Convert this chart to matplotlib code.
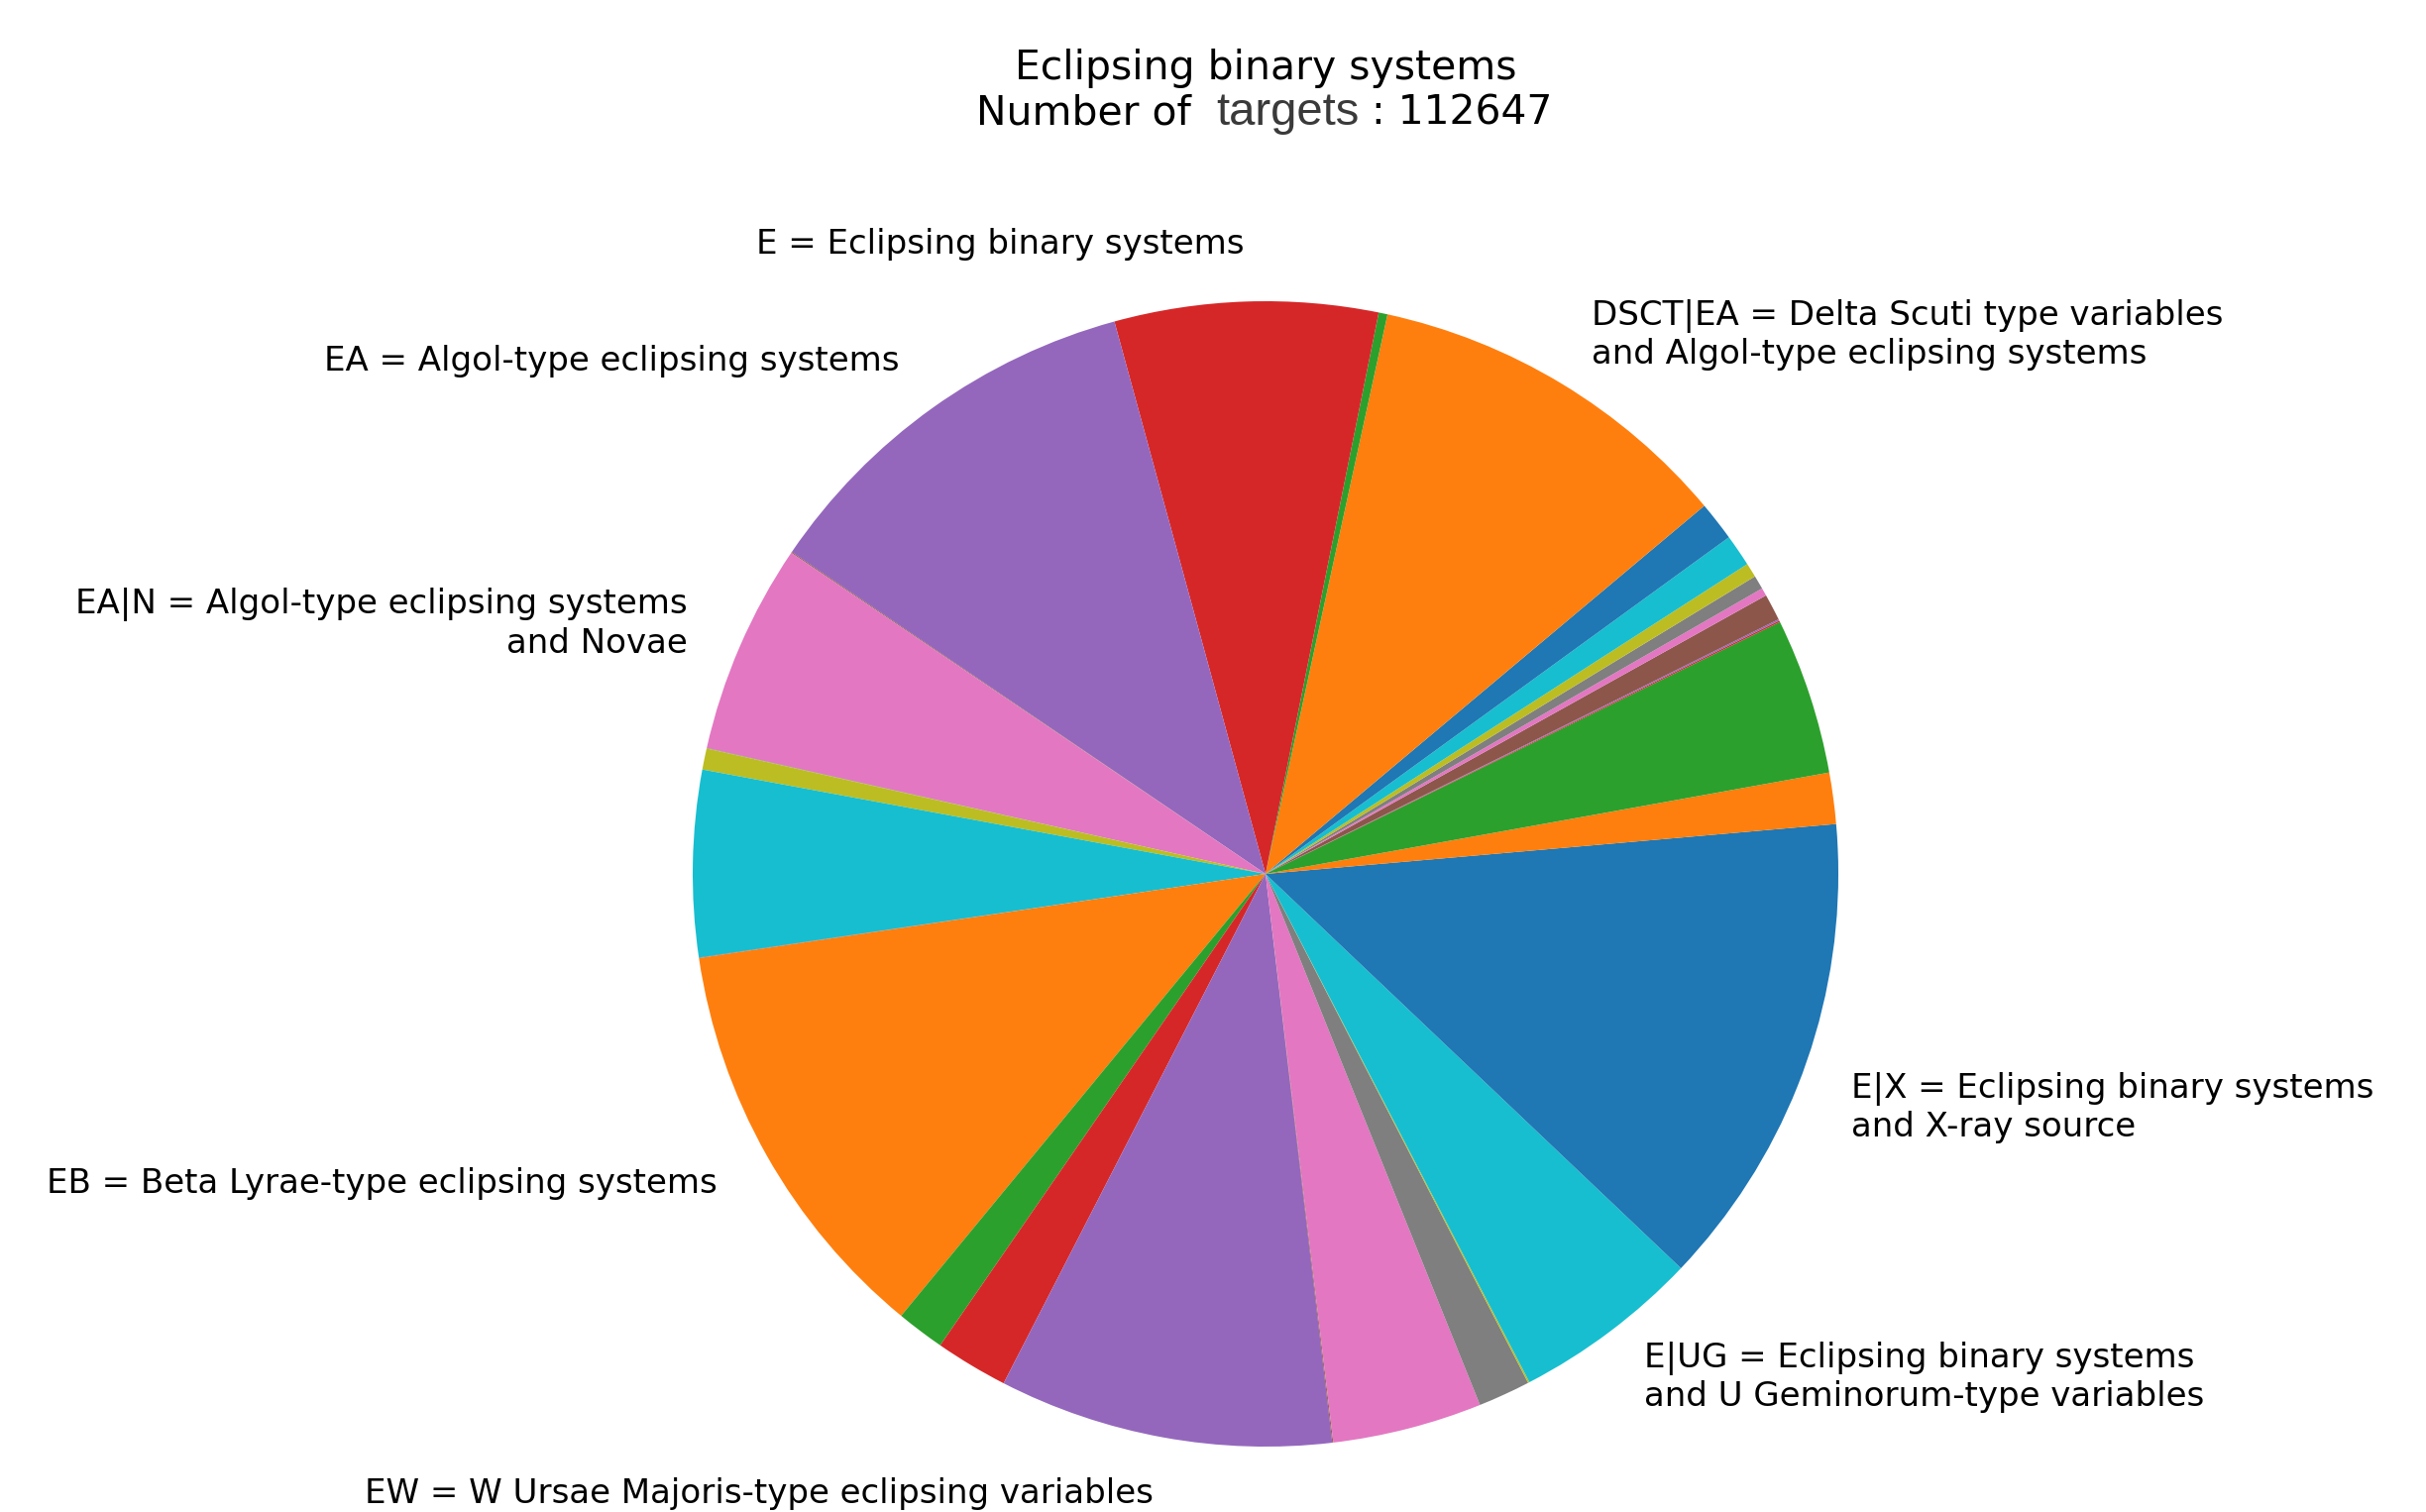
import matplotlib
matplotlib.use("Agg")
import matplotlib.pyplot as plt

# === DATA (counts per variability type, in pie order) ===
counts = [1565, 1627, 4975, 47, 47, 845, 250, 438, 454, 1017,
          1252, 11796, 282, 8354, 12672, 31, 6696, 16, 673, 5914,
          16, 13157, 1533, 2315, 10607, 31, 4756, 1658, 47, 5961,
          13615]

labels = ["", "", "", "", "", "", "", "", "", "",
          "",
          "DSCT|EA = Delta Scuti type variables\nand Algol-type eclipsing systems",
          "",
          "E = Eclipsing binary systems",
          "EA = Algol-type eclipsing systems",
          "",
          "EA|N = Algol-type eclipsing systems\nand Novae",
          "", "", "", "",
          "EB = Beta Lyrae-type eclipsing systems",
          "", "",
          "EW = W Ursae Majoris-type eclipsing variables",
          "", "", "", "",
          "E|UG = Eclipsing binary systems\nand U Geminorum-type variables",
          "E|X = Eclipsing binary systems\nand X-ray source"]

title = "Eclipsing binary systems"
total = sum(counts)

# === FIGURE ===
W, H = 2448, 1526
cx, cy, r = 1277, 882, 578   # pie centre / radius in pixels
fig = plt.figure(figsize=(W / 100, H / 100), dpi=100)
ax = fig.add_axes([0, 0, 1, 1])

ax.pie(counts, labels=labels, startangle=0, counterclock=True,
       labeldistance=1.1, textprops={"fontsize": 24.5})
ax.set_xlim(-cx / r, (W - cx) / r)
ax.set_ylim(-(H - cy) / r, cy / r)
ax.axis("off")

# === TITLE (two lines, "targets" in a different font) ===
fs = 29.4
fig.text(cx / W, 1 - 80 / H, title, ha="center", va="baseline", fontsize=fs)
y2 = 1 - 126 / H
fig.text(1202 / W, y2, "Number of", ha="right", va="baseline", fontsize=fs)
fig.text(1227 / W, y2, "targets", ha="left", va="baseline", fontsize=34,
         family="Liberation Sans", color="#3a3a3a")
fig.text(1384 / W, y2, ": %d" % total, ha="left", va="baseline", fontsize=fs)

fig.savefig("out.png", dpi=100)
